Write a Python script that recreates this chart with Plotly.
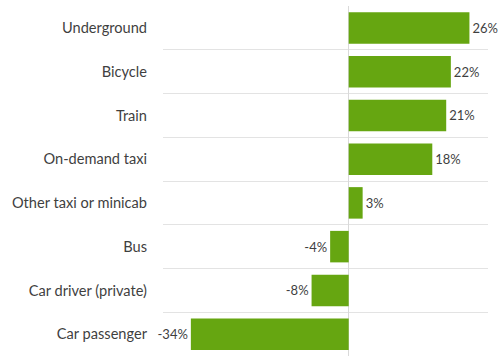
import plotly.graph_objects as go

categories = ["Underground", "Bicycle", "Train", "On-demand taxi",
              "Other taxi or minicab", "Bus", "Car driver (private)", "Car passenger"]
values = [26, 22, 21, 18, 3, -4, -8, -34]
labels = [f"{v}%" for v in values]

fig = go.Figure(go.Bar(
    x=values, y=categories, orientation="h",
    marker=dict(color="#66a611", line=dict(width=0)),
    text=labels, textposition="outside", cliponaxis=False,
    textfont=dict(family="Lato", size=13, color="#3f3f3f"),
    width=0.72,
))

fig.update_layout(
    width=500, height=356,
    margin=dict(l=163, r=12, t=6, b=0),
    paper_bgcolor="white", plot_bgcolor="white",
    showlegend=False,
    font=dict(family="Lato", size=14.6, color="#3f3f3f"),
)
fig.update_xaxes(range=[-40, 30], showticklabels=False, showgrid=False,
                 zeroline=True, zerolinecolor="#d9d9d9", zerolinewidth=1,
                 fixedrange=True)
fig.update_yaxes(type="category", categoryorder="array", categoryarray=categories,
                 autorange="reversed", tickson="boundaries", showgrid=True,
                 gridcolor="#e3e3e3", gridwidth=1, ticks="", ticklabelstandoff=15,
                 showline=False, zeroline=False)

fig.write_html("out.html")
